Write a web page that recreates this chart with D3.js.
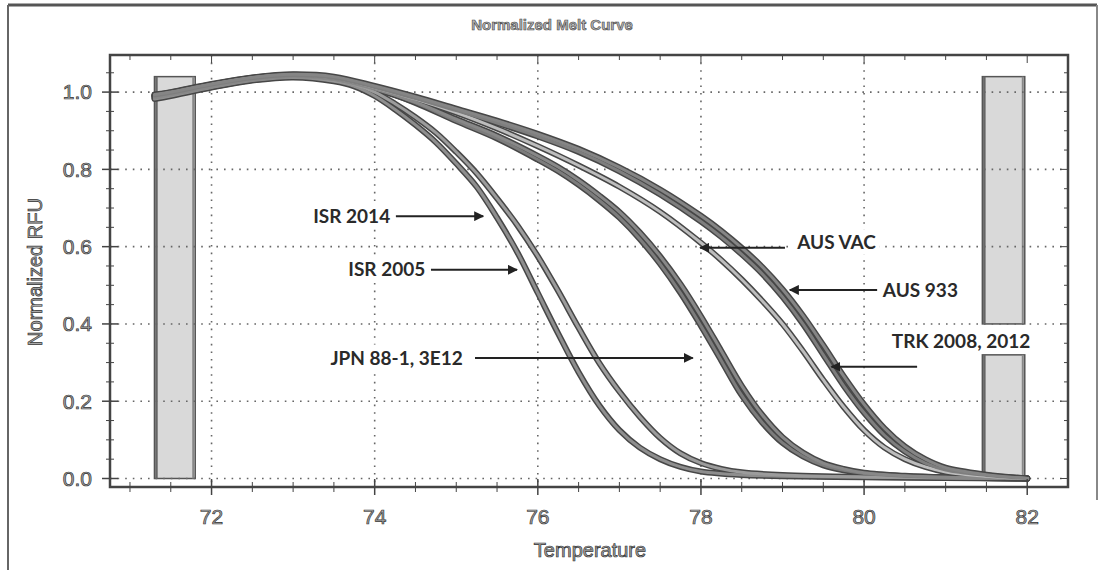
<!DOCTYPE html>
<html>
<head>
<meta charset="utf-8">
<script src="https://cdn.jsdelivr.net/npm/d3@7"></script>
<style>
  body { margin: 0; background: #fff; }
  svg { display: block; }
</style>
</head>
<body>
<div id="vis"></div>
<script>
// melt curve data (temperature, normalized RFU)
const isr2014 = [[71.3,0.982],[71.5,0.99],[72.0,1.012],[72.5,1.03],[73.0,1.038],[73.5,1.028],[73.75,1.015],[74.0,0.99],[74.25,0.955],[74.5,0.915],[74.75,0.87],[75.0,0.815],[75.25,0.755],[75.5,0.675],[75.75,0.585],[76.0,0.48],[76.25,0.375],[76.5,0.275],[76.75,0.19],[77.0,0.125],[77.25,0.08],[77.5,0.05],[77.75,0.03],[78.0,0.018],[78.5,0.009],[79.0,0.006],[80.0,0.003],[81.0,0.001],[82.0,0.0]]
const isr2005 = [[71.3,0.988],[71.5,0.995],[72.0,1.016],[72.5,1.034],[73.0,1.042],[73.5,1.03],[73.75,1.02],[74.0,1.0],[74.25,0.97],[74.5,0.935],[74.75,0.895],[75.0,0.845],[75.25,0.79],[75.5,0.725],[75.75,0.655],[76.0,0.575],[76.25,0.485],[76.5,0.39],[76.75,0.3],[77.0,0.225],[77.25,0.16],[77.5,0.105],[77.75,0.065],[78.0,0.04],[78.25,0.025],[78.5,0.016],[79.0,0.009],[80.0,0.004],[81.0,0.002],[82.0,0.0]]
const jpn881 = [[71.3,0.99],[71.5,0.997],[72.0,1.018],[72.5,1.036],[73.0,1.044],[73.5,1.035],[74.0,1.01],[74.5,0.972],[75.0,0.925],[75.5,0.88],[76.0,0.825],[76.25,0.795],[76.5,0.76],[76.75,0.72],[77.0,0.675],[77.25,0.62],[77.5,0.555],[77.75,0.48],[78.0,0.395],[78.25,0.305],[78.5,0.215],[78.75,0.145],[79.0,0.092],[79.25,0.057],[79.5,0.034],[79.75,0.021],[80.0,0.013],[80.5,0.006],[81.0,0.003],[82.0,0.0]]
const jpn3e12 = [[71.3,0.985],[71.5,0.993],[72.0,1.013],[72.5,1.031],[73.0,1.04],[73.5,1.032],[74.0,1.008],[74.5,0.974],[75.0,0.93],[75.5,0.887],[76.0,0.835],[76.25,0.806],[76.5,0.772],[76.75,0.733],[77.0,0.69],[77.25,0.637],[77.5,0.575],[77.75,0.503],[78.0,0.42],[78.25,0.33],[78.5,0.24],[78.75,0.165],[79.0,0.107],[79.25,0.067],[79.5,0.04],[79.75,0.025],[80.0,0.015],[80.5,0.007],[81.0,0.003],[82.0,0.0]]
const ausVac = [[71.3,0.992],[71.5,0.999],[72.0,1.02],[72.5,1.037],[73.0,1.045],[73.5,1.037],[74.0,1.012],[74.5,0.982],[75.0,0.947],[75.5,0.906],[76.0,0.86],[76.5,0.81],[77.0,0.755],[77.5,0.69],[78.0,0.61],[78.25,0.565],[78.5,0.515],[78.75,0.46],[79.0,0.4],[79.25,0.33],[79.5,0.255],[79.75,0.185],[80.0,0.125],[80.25,0.08],[80.5,0.05],[80.75,0.03],[81.0,0.017],[81.5,0.006],[82.0,0.0]]
const aus933 = [[71.3,0.99],[71.5,0.997],[72.0,1.018],[72.5,1.035],[73.0,1.043],[73.5,1.036],[74.0,1.012],[74.5,0.983],[75.0,0.952],[75.5,0.92],[76.0,0.885],[76.5,0.845],[77.0,0.795],[77.5,0.735],[78.0,0.665],[78.25,0.625],[78.5,0.58],[78.75,0.53],[79.0,0.47],[79.25,0.4],[79.5,0.32],[79.75,0.24],[80.0,0.17],[80.25,0.112],[80.5,0.07],[80.75,0.04],[81.0,0.022],[81.5,0.008],[82.0,0.0]]
const trk = [[71.3,0.994],[71.5,1.0],[72.0,1.021],[72.5,1.038],[73.0,1.046],[73.5,1.04],[74.0,1.016],[74.5,0.988],[75.0,0.957],[75.5,0.926],[76.0,0.892],[76.5,0.853],[77.0,0.805],[77.5,0.748],[78.0,0.68],[78.25,0.641],[78.5,0.597],[78.75,0.548],[79.0,0.49],[79.25,0.422],[79.5,0.345],[79.75,0.265],[80.0,0.192],[80.25,0.13],[80.5,0.083],[80.75,0.05],[81.0,0.028],[81.5,0.01],[82.0,0.0]]

const curves = [isr2014, isr2005, jpn881, jpn3e12, ausVac, aus933, trk]
const curveTones = ["#8e8e8e", "#9c9c9c", "#7c7c7c", "#888888", "#bdbdbd", "#7e7e7e", "#858585"]

// annotations: label, text anchor point, arrow start, arrow end
const labels = ["ISR 2014", "ISR 2005", "JPN 88-1, 3E12", "AUS VAC", "AUS 933", "TRK 2008, 2012"]
const labelAt = [[74.19, 0.679], [74.62, 0.54], [75.08, 0.312], [79.18, 0.61], [80.23, 0.488], [80.34, 0.355]]
const labelSide = ["end", "end", "end", "start", "start", "start"]
const arrowFrom = [[74.26, 0.679], [74.69, 0.54], [75.23, 0.312], [79.03, 0.597], [80.16, 0.488], [80.65, 0.289]]
const arrowTo = [[75.33, 0.679], [75.745, 0.54], [77.9, 0.312], [77.99, 0.597], [79.09, 0.488], [79.6, 0.289]]

// grey marker bars [x0, x1, y0, y1]
const bars = [[71.3, 71.8, 0, 1.04], [81.45, 81.97, 0.4, 1.04], [81.45, 81.97, 0, 0.32]]

const xTicks = [72, 74, 76, 78, 80, 82]
const yTicks = [0.0, 0.2, 0.4, 0.6, 0.8, 1.0]

const svg = d3.select("#vis").append("svg")
  .attr("width", 1100)
  .attr("height", 570)

const x = d3.scaleLinear().domain([70.755, 82.5]).range([110, 1068])
const y = d3.scaleLinear().domain([-0.022, 1.096]).range([487, 55])

// outer frame
svg.append("line").attr("x1", 8).attr("x2", 1097).attr("y1", 5).attr("y2", 5)
  .attr("stroke", "#555").attr("stroke-width", 3)
svg.append("line").attr("x1", 8).attr("x2", 8).attr("y1", 5).attr("y2", 570)
  .attr("stroke", "#666").attr("stroke-width", 2)
svg.append("line").attr("x1", 1097).attr("x2", 1097).attr("y1", 5).attr("y2", 500)
  .attr("stroke", "#888").attr("stroke-width", 2)

// title
svg.append("text")
  .attr("x", 552).attr("y", 30)
  .attr("text-anchor", "middle")
  .style("font", "bold 15px 'Liberation Sans', Arial, sans-serif")
  .attr("fill", "#b5b5b5").attr("stroke", "#444").attr("stroke-width", 0.6)
  .text("Normalized Melt Curve")

// bars
bars.forEach(b => {
  svg.append("rect")
    .attr("x", x(b[0])).attr("y", y(b[3]))
    .attr("width", x(b[1]) - x(b[0])).attr("height", y(b[2]) - y(b[3]))
    .attr("fill", "#d9d9d9").attr("stroke", "#555").attr("stroke-width", 1.5)
  svg.append("line")
    .attr("x1", x(b[0]) + 2).attr("x2", x(b[0]) + 2)
    .attr("y1", y(b[3])).attr("y2", y(b[2]))
    .attr("stroke", "#666").attr("stroke-width", 2.5)
  svg.append("line")
    .attr("x1", x(b[1]) - 2).attr("x2", x(b[1]) - 2)
    .attr("y1", y(b[3])).attr("y2", y(b[2]))
    .attr("stroke", "#888").attr("stroke-width", 2)
})

// dotted grid
const grid = svg.append("g")
  .attr("stroke", "#666").attr("stroke-width", 1.6).attr("stroke-dasharray", "1.6,6")
xTicks.filter(t => t < 82).forEach(t => {
  grid.append("line").attr("x1", x(t)).attr("x2", x(t)).attr("y1", 55).attr("y2", 487)
})
yTicks.forEach(t => {
  grid.append("line").attr("x1", 110).attr("x2", 1068).attr("y1", y(t)).attr("y2", y(t))
})

// curves
const line = d3.line()
  .x(d => x(d[0]))
  .y(d => y(d[1]))
  .curve(d3.curveCatmullRom.alpha(0.5))

const curveG = svg.append("g").attr("fill", "none").attr("stroke-linecap", "round")
curves.forEach((c, i) => {
  curveG.append("path").attr("d", line(c)).attr("stroke", "#474747").attr("stroke-width", 6)
})
curves.forEach((c, i) => {
  curveG.append("path").attr("d", line(c)).attr("stroke", curveTones[i]).attr("stroke-width", 3)
})

// annotations
svg.append("defs").append("marker")
  .attr("id", "head")
  .attr("viewBox", "0 0 10 10")
  .attr("refX", 9).attr("refY", 5)
  .attr("markerWidth", 5).attr("markerHeight", 5)
  .attr("markerUnits", "strokeWidth")
  .attr("orient", "auto")
  .append("path").attr("d", "M0,0L10,5L0,10z").attr("fill", "#222")

labels.forEach((l, i) => {
  const t = svg.append("text")
    .attr("x", x(labelAt[i][0])).attr("y", y(labelAt[i][1]))
    .attr("dy", "0.35em")
    .attr("text-anchor", labelSide[i])
    .style("font", "bold 19px Lato, 'Open Sans', sans-serif")
    .attr("fill", "#2a2a2a")
    .text(l)
  const bb = t.node().getBBox()
  svg.insert("rect", () => t.node())
    .attr("x", bb.x - 3).attr("y", bb.y - 1)
    .attr("width", bb.width + 6).attr("height", bb.height + 2)
    .attr("fill", "#fff")
  svg.append("line")
    .attr("x1", x(arrowFrom[i][0])).attr("y1", y(arrowFrom[i][1]))
    .attr("x2", x(arrowTo[i][0])).attr("y2", y(arrowTo[i][1]))
    .attr("stroke", "#222").attr("stroke-width", 2)
    .attr("marker-end", "url(#head)")
})

// axes frame and ticks
const axisG = svg.append("g").attr("stroke", "#444")
axisG.append("rect")
  .attr("x", 110).attr("y", 55).attr("width", 958).attr("height", 432)
  .attr("fill", "none").attr("stroke-width", 2.5)

d3.range(71, 82.5, 0.5).forEach(t => {
  const major = xTicks.includes(t)
  const len = major ? 8 : 5
  axisG.append("line").attr("x1", x(t)).attr("x2", x(t))
    .attr("y1", 487 - len).attr("y2", 487 + len).attr("stroke-width", major ? 1.5 : 1)
  axisG.append("line").attr("x1", x(t)).attr("x2", x(t))
    .attr("y1", 55).attr("y2", 55 + len).attr("stroke-width", 1)
})
d3.range(0, 1.09, 0.05).forEach(t => {
  const major = yTicks.some(v => Math.abs(v - t) < 1e-6)
  const len = major ? 8 : 4
  axisG.append("line").attr("x1", 110 - len).attr("x2", 110 + len)
    .attr("y1", y(t)).attr("y2", y(t)).attr("stroke-width", major ? 1.5 : 1)
  axisG.append("line").attr("x1", 1068 - len).attr("x2", 1068)
    .attr("y1", y(t)).attr("y2", y(t)).attr("stroke-width", 1)
})

// tick labels
const tickFont = "21px 'Liberation Sans', Arial, sans-serif"
xTicks.forEach(t => {
  svg.append("text")
    .attr("x", x(t)).attr("y", 524)
    .attr("text-anchor", "middle")
    .style("font", tickFont)
    .attr("fill", "#aaa").attr("stroke", "#333").attr("stroke-width", 0.7)
    .text(t)
})
yTicks.forEach(t => {
  svg.append("text")
    .attr("x", 92).attr("y", y(t))
    .attr("dy", "0.35em")
    .attr("text-anchor", "end")
    .style("font", tickFont)
    .attr("fill", "#aaa").attr("stroke", "#333").attr("stroke-width", 0.7)
    .text(d3.format(".1f")(t))
})

// axis titles
svg.append("text")
  .attr("x", 590).attr("y", 557)
  .attr("text-anchor", "middle")
  .style("font", "20px 'Liberation Sans', Arial, sans-serif")
  .attr("fill", "#aaa").attr("stroke", "#333").attr("stroke-width", 0.7)
  .text("Temperature")
svg.append("text")
  .attr("transform", "translate(42,272) rotate(-90)")
  .attr("text-anchor", "middle")
  .style("font", "20px 'Liberation Sans', Arial, sans-serif")
  .attr("fill", "#aaa").attr("stroke", "#333").attr("stroke-width", 0.7)
  .text("Normalized RFU")
</script>
</body>
</html>
